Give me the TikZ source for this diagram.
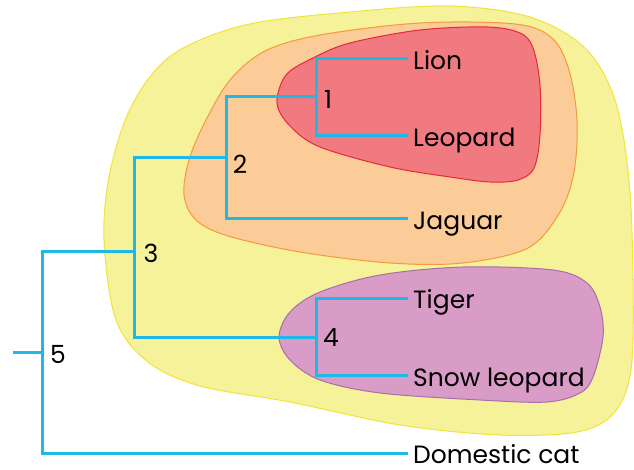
\documentclass[tikz,border=0pt]{standalone}
\usepackage{fontspec}
\setmainfont{Poppins}
\definecolor{yfill}{HTML}{F6F29A}
\definecolor{ydraw}{HTML}{F2E33A}
\definecolor{ofill}{HTML}{FBCB98}
\definecolor{odraw}{HTML}{F39A3C}
\definecolor{rfill}{HTML}{F07A80}
\definecolor{rdraw}{HTML}{E5283C}
\definecolor{pfill}{HTML}{D99CC6}
\definecolor{pdraw}{HTML}{A86EAA}
\definecolor{branchblue}{HTML}{1EB9E6}
\tikzset{
  blob/.style={line width=1pt},
  branch/.style={draw=branchblue, line width=3pt, line join=miter},
  leaf/.style={anchor=base west, inner sep=0pt, text depth=0pt, font=\fontsize{25}{30}\selectfont},
  cladenum/.style={inner sep=0pt, font=\fontsize{25}{30}\selectfont},
}
\begin{document}
\begin{tikzpicture}[x=1pt, y=-1pt]
\useasboundingbox (0,0) rectangle (634,470);

% nested groups
\draw[blob, fill=yfill, draw=ydraw] plot[smooth cycle, tension=0.55] coordinates {
  (104,240) (110,172) (132,105) (172,55) (245,25) (350,12) (450,6) (530,17)
  (585,48) (615,100) (629,180) (633,280) (631,370) (614,413) (577,432)
  (500,435) (400,425) (290,402) (200,386) (148,362) (116,320)};
\draw[blob, fill=ofill, draw=odraw] plot[smooth cycle, tension=0.55] coordinates {
  (184,195) (189,160) (205,122) (230,80) (265,51) (320,35) (420,23)
  (515,24) (552,38) (569,70) (577,120) (574,172) (560,212)
  (528,248) (463,263) (390,263) (300,252) (228,236) (196,220)};
\draw[blob, fill=rfill, draw=rdraw] plot[smooth cycle, tension=0.55] coordinates {
  (277,103) (286,75) (313,58) (350,43) (420,30) (487,27) (520,33) (533,48)
  (540,85) (540,135) (534,168) (518,180) (490,182) (450,177) (390,167)
  (320,147) (290,126)};
\draw[blob, fill=pfill, draw=pdraw] plot[smooth cycle, tension=0.55] coordinates {
  (279,337) (290,312) (320,292) (380,275) (463,267) (553,270) (587,283)
  (600,307) (603,337) (593,377) (580,393) (547,402) (480,400) (380,393)
  (320,380) (290,360)};

% branch points and leaf ends
\coordinate (n1) at (316,97);
\coordinate (n2) at (226,158);
\coordinate (n3) at (134,252);
\coordinate (n4) at (316,337);
\coordinate (n5) at (42,352);
\coordinate (root) at (13,352);
\coordinate (lionend) at (408,59);
\coordinate (leopardend) at (408,136);
\coordinate (jaguarend) at (408,219);
\coordinate (tigerend) at (408,298);
\coordinate (snowend) at (408,375);
\coordinate (catend) at (408,453);

% tree
\draw[branch] (lionend) -| (n1) |- (leopardend);
\draw[branch] (n1) -| (n2) |- (jaguarend);
\draw[branch] (n2) -| (n3) |- (n4);
\draw[branch] (tigerend) -| (n4) |- (snowend);
\draw[branch] (n3) -| (n5) |- (catend);
\draw[branch] (root) -- (n5);

% leaf names
\node[leaf] (lion) at (413,70) {Lion};
\node[leaf] (leopard) at (413,147) {Leopard};
\node[leaf] (jaguar) at (413,230) {Jaguar};
\node[leaf] (tiger) at (413,308.5) {Tiger};
\node[leaf] (snow) at (413,386) {Snow leopard};
\node[leaf] (cat) at (413,463) {Domestic cat};

% clade numbers
\node[cladenum] (lab1) at (328,99) {1};
\node[cladenum] (lab2) at (240,164) {2};
\node[cladenum] (lab3) at (151,253) {3};
\node[cladenum] (lab4) at (331,338) {4};
\node[cladenum] (lab5) at (58,354) {5};
\end{tikzpicture}
\end{document}
